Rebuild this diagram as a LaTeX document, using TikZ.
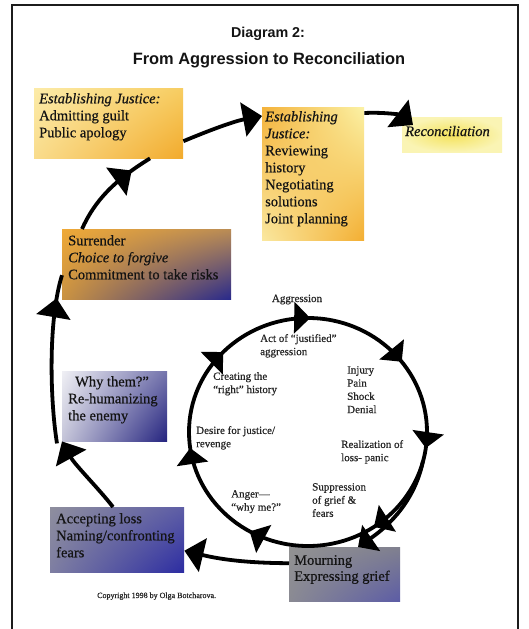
\documentclass[tikz,border=0pt]{standalone}
\usepackage{fontspec}
\setmainfont{Liberation Serif}[FakeBold=0.5]
\newfontfamily\titlefont{Liberation Sans}
\usetikzlibrary{arrows.meta,decorations.markings,calc,shadings}

\definecolor{tlUL}{HTML}{FCEBA8}\definecolor{tlUR}{HTML}{F7CD62}
\definecolor{tlLL}{HTML}{F9DC8C}\definecolor{tlLR}{HTML}{F2AA2C}
\definecolor{mdUL}{HTML}{F4B23A}\definecolor{mdUR}{HTML}{FBF2A6}
\definecolor{mdLL}{HTML}{FAE8A0}\definecolor{mdLR}{HTML}{F3AE32}
\definecolor{rcIn}{HTML}{F4E25A}\definecolor{rcOut}{HTML}{FAF4B4}
\definecolor{suUL}{HTML}{EFA937}\definecolor{suUR}{HTML}{BA8C55}
\definecolor{suLL}{HTML}{C99242}\definecolor{suLR}{HTML}{28298C}
\definecolor{whUL}{HTML}{EFEFF4}\definecolor{whUR}{HTML}{7474AC}
\definecolor{whLL}{HTML}{C4C4D8}\definecolor{whLR}{HTML}{24237F}
\definecolor{acUL}{HTML}{8E8E9E}\definecolor{acUR}{HTML}{5E5EA6}
\definecolor{acLL}{HTML}{7E7EA2}\definecolor{acLR}{HTML}{2C2CA2}
\definecolor{moUL}{HTML}{929292}\definecolor{moUR}{HTML}{80808F}
\definecolor{moLL}{HTML}{8A8A93}\definecolor{moLR}{HTML}{5C5CA6}
\definecolor{ink}{HTML}{141414}
\definecolor{inkin}{HTML}{262626}
\definecolor{frame}{HTML}{1C1C1C}

\tikzset{
  box/.style={draw=none, inner sep=0pt, anchor=north west, shade},
  bigtxt/.style={inner sep=0pt, anchor=north west, align=left, text=ink,
    font=\fontsize{14.5}{17}\selectfont, execute at begin node={\rule{0pt}{11pt}}},
  smalltxt/.style={inner sep=0pt, anchor=north west, align=left, text=inkin,
    font=\fontsize{11}{13.2}\selectfont, execute at begin node={\rule{0pt}{9pt}}},
  titletxt/.style={inner sep=0pt, anchor=base, text=ink},
  outer/.style={line width=3.8pt, draw=black},
  inner/.style={line width=3.8pt, draw=black},
  bigtip/.tip={Triangle[length=19pt,width=34pt]},
  smalltip/.tip={Triangle[length=16pt,width=31pt]},
  midarrow/.style={postaction={decorate}, decoration={markings,
    mark=at position #1 with {\arrow{bigtip}}}}
}

\begin{document}
\begin{tikzpicture}[x=1pt,y=-1pt]
\useasboundingbox (0,0) rectangle (529,629);
\fill[white] (0,0) rectangle (529,629);
% frame
\draw[frame, line width=2pt] (12,629) -- (12,5) -- (518,5) -- (518,629);

% title
\node[titletxt, font=\titlefont\bfseries\fontsize{14.3}{17}\selectfont] (t1) at (268,37) {Diagram 2:};
\node[titletxt, font=\titlefont\bfseries\fontsize{16.4}{20}\selectfont] (t2) at (269,64) {From Aggression to Reconciliation};

% boxes
\node[box, minimum width=149pt, minimum height=70pt, upper left=tlUL, upper right=tlUR, lower left=tlLL, lower right=tlLR] (tl) at (34,88) {};
\node[box, minimum width=102pt, minimum height=133pt, upper left=mdUL, upper right=mdUR, lower left=mdLL, lower right=mdLR] (md) at (262,107) {};
\node[box, minimum width=100pt, minimum height=35pt, inner color=rcIn, outer color=rcOut] (rc) at (402,117) {};
\node[box, minimum width=169pt, minimum height=70pt, upper left=suUL, upper right=suUR, lower left=suLL, lower right=suLR] (su) at (62,229) {};
\node[box, minimum width=105pt, minimum height=70pt, upper left=whUL, upper right=whUR, lower left=whLL, lower right=whLR] (wh) at (62,371) {};
\node[box, minimum width=134pt, minimum height=65pt, upper left=acUL, upper right=acUR, lower left=acLL, lower right=acLR] (ac) at (50,507) {};
\node[box, minimum width=111pt, minimum height=54pt, upper left=moUL, upper right=moUR, lower left=moLL, lower right=moLR] (mo) at (289,547) {};

% box texts
\node[bigtxt] (tlt) at (39,93) {\textit{Establishing Justice:}\\Admitting guilt\\Public apology};
\node[bigtxt] (mdt) at (265,111) {\textit{Establishing}\\\textit{Justice:}\\Reviewing\\history\\Negotiating\\solutions\\Joint planning};
\node[inner sep=0pt, anchor=base west, text=ink, font=\fontsize{14.5}{17}\selectfont\itshape] (rct) at (405,136) {Reconciliation};
\node[bigtxt] (sut) at (68,235) {Surrender\\\textit{Choice to forgive}\\Commitment to take risks};
\node[bigtxt] (wht) at (68,376) {\hspace{7pt}Why them?”\\Re-humanizing\\the enemy};
\node[bigtxt] (act) at (56,513) {Accepting loss\\Naming/confronting\\fears};
\node[bigtxt, font=\fontsize{14.5}{16}\selectfont] (mot) at (294,555) {Mourning\\Expressing grief};

% inner cycle
\coordinate (cyc) at (308,432);
\draw[inner, postaction={decorate}, decoration={markings,
   mark=at position 0.022 with {\arrow{smalltip}},
   mark=at position 0.155 with {\arrow{smalltip}},
   mark=at position 0.333 with {\arrow{smalltip}},
   mark=at position 0.478 with {\arrow{smalltip}},
   mark=at position 0.622 with {\arrow{smalltip}},
   mark=at position 0.753 with {\arrow{smalltip}},
   mark=at position 0.896 with {\arrow{smalltip}}}]
   (cyc) ellipse [x radius=119, y radius=114];
\coordinate (br) at (423,461);
\draw[inner, -smalltip] (br) .. controls (415,500) and (390,525) .. ([xshift=69pt]mo.north west);

% inner labels
\node[inner sep=0pt, anchor=base, text=inkin, font=\fontsize{11}{13}\selectfont] (agg) at (297,302) {Aggression};
\node[smalltxt] (l1) at (260,334) {Act of “justified”\\aggression};
\node[smalltxt] (l2) at (347,366) {Injury\\Pain\\Shock\\Denial};
\node[smalltxt] (l3) at (341,440) {Realization of\\loss- panic};
\node[smalltxt] (l4) at (312,483) {Suppression\\of grief \&\\fears};
\node[smalltxt] (l5) at (231,490) {Anger—\\“why me?”};
\node[smalltxt] (l6) at (196,426) {Desire for justice/\\revenge};
\node[smalltxt] (l7) at (213,372) {Creating the\\“right” history};

% outer path
\draw[outer, -bigtip] ([yshift=11pt]mo.west) .. controls (240,563) and (215,558) .. ([yshift=-11pt]ac.east);
\draw[outer, -bigtip] ([xshift=63pt]ac.north west) .. controls (100,490) and (75,465) .. (wh.south west);
\draw[outer, midarrow=0.86] ([xshift=-5pt,yshift=-2pt]wh.south west) .. controls (50,400) and (48,320) .. ([yshift=-11pt]su.west);
\draw[outer, midarrow=0.78] ([xshift=20pt]su.north west) .. controls (95,200) and (115,180) .. ([xshift=116pt]tl.south west);
\draw[outer, -bigtip] ([yshift=-18pt]tl.east) .. controls (210,130) and (235,121) .. ([yshift=-9pt]md.north west);
\draw[outer, -bigtip] ([yshift=-6pt]md.north east) .. controls (385,112) and (400,115) .. ([xshift=11pt,yshift=-8pt]rc.north west);

% copyright
\node[inner sep=0pt, anchor=base west, text=inkin, font=\fontsize{8}{9}\selectfont] (cp) at (97,598) {Copyright 1998 by Olga Botcharova.};
\end{tikzpicture}
\end{document}
